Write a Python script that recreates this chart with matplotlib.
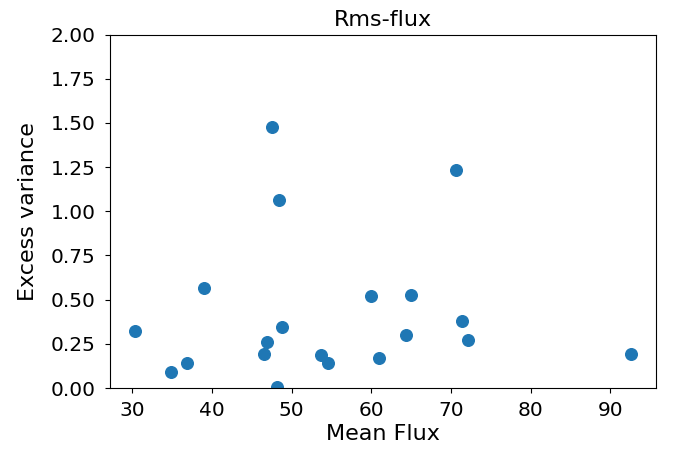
import matplotlib
matplotlib.use("Agg")
import matplotlib.pyplot as plt

mean_flux = [30.3, 34.8, 36.9, 38.96, 47.49, 48.37, 48.74, 46.94, 46.49, 48.2,
             53.68, 54.5, 60.0, 64.96, 61.0, 64.3, 70.65, 71.33, 72.16, 92.6]
excess_var = [0.324, 0.091, 0.139, 0.565, 1.474, 1.066, 0.343, 0.258, 0.195, 0.005,
              0.184, 0.139, 0.521, 0.528, 0.167, 0.298, 1.233, 0.381, 0.269, 0.195]

fig = plt.figure(figsize=(6.73, 4.55), dpi=100)
ax = fig.add_axes([110/673, 1-388/455, (656-110)/673, (388-34.5)/455])
ax.scatter(mean_flux, excess_var, s=70, color="#1f77b4")
ax.set_ylim(0, 2.0)
ax.set_yticks([0, 0.25, 0.5, 0.75, 1.0, 1.25, 1.5, 1.75, 2.0])
ax.set_title("Rms-flux", fontsize=16)
ax.set_xlabel("Mean Flux", fontsize=16, labelpad=3)
ax.set_ylabel("Excess variance", fontsize=16, labelpad=9)
ax.tick_params(axis="y", labelsize=14.5, pad=7)
ax.tick_params(axis="x", labelsize=14.5, pad=6)
fig.savefig("out.png", dpi=100)
